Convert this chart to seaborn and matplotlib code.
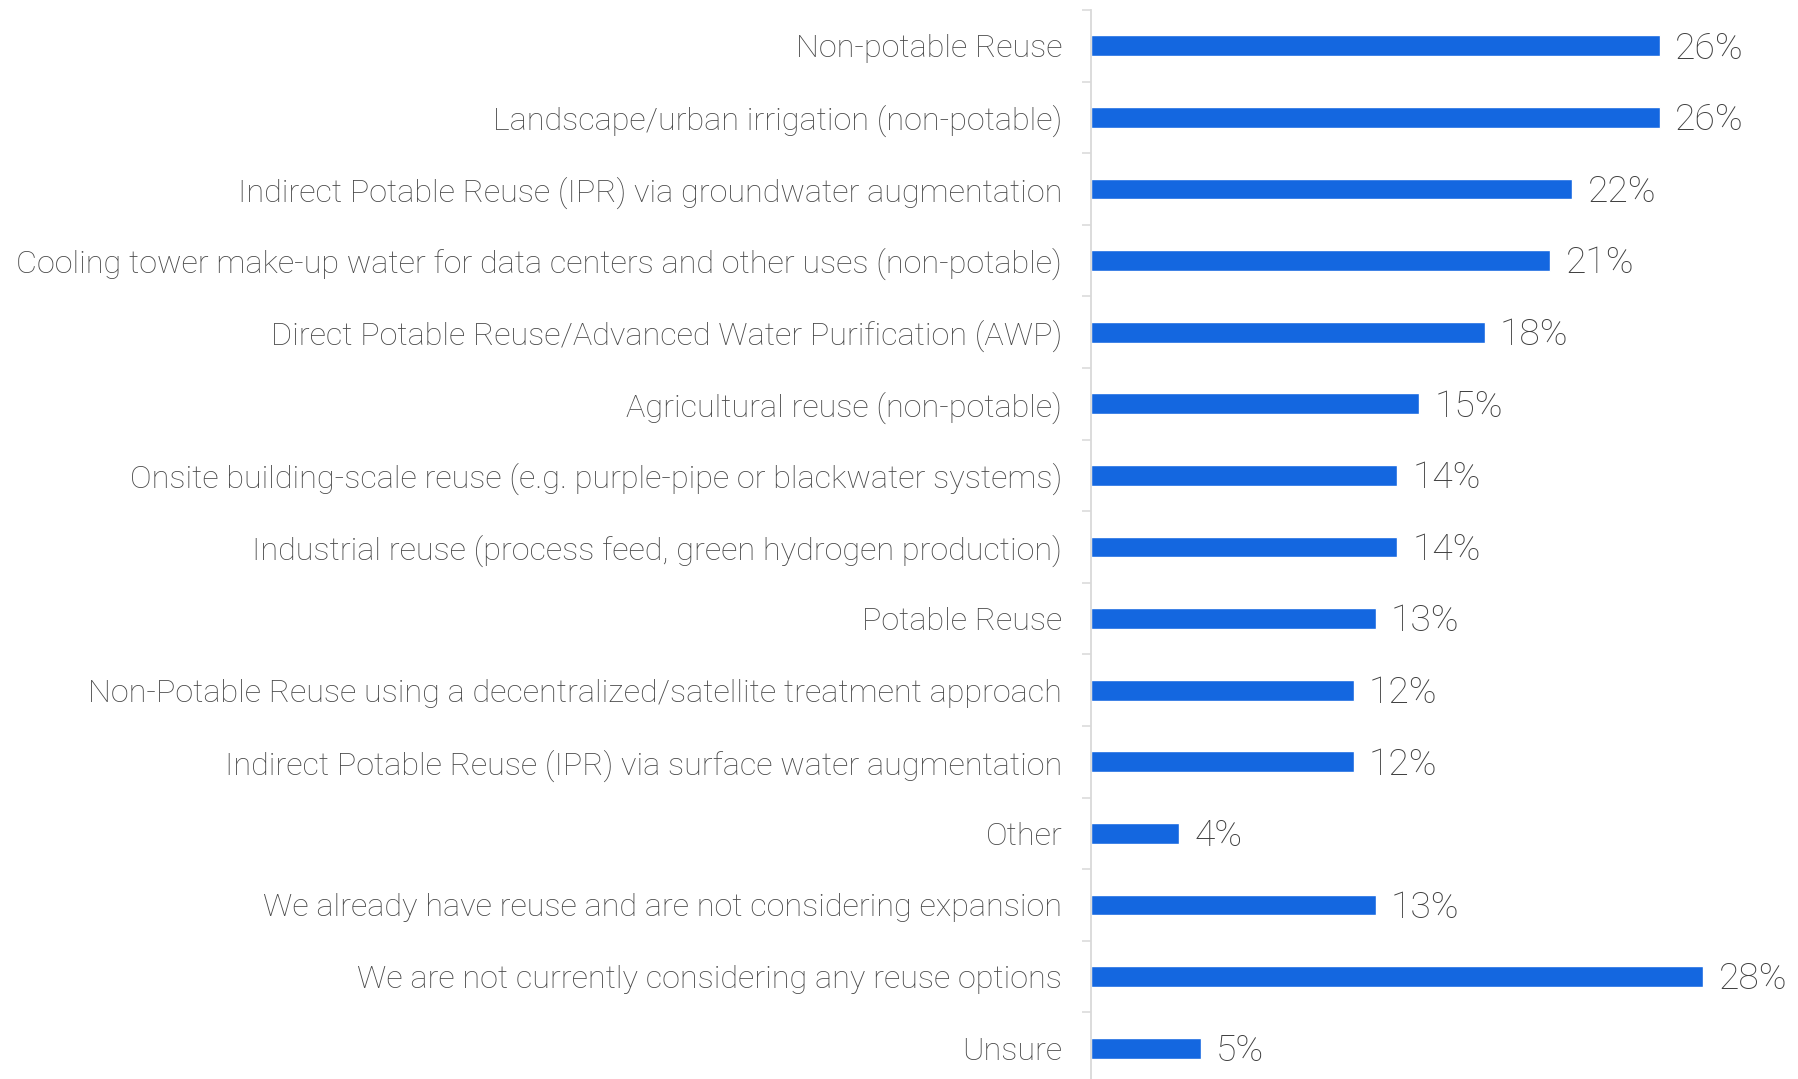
import pandas as pd
import matplotlib.pyplot as plt
import numpy as np
import seaborn as sns

# Données
categories = [
    "Non-potable Reuse",
    "Landscape/urban irrigation (non-potable)",
    "Indirect Potable Reuse (IPR) via groundwater augmentation",
    "Cooling tower make-up water for data centers and other uses (non-potable)",
    "Direct Potable Reuse/Advanced Water Purification (AWP)",
    "Agricultural reuse (non-potable)",
    "Onsite building-scale reuse (e.g. purple-pipe or blackwater systems)",
    "Industrial reuse (process feed, green hydrogen production)",
    "Potable Reuse",
    "Non-Potable Reuse using a decentralized/satellite treatment approach",
    "Indirect Potable Reuse (IPR) via surface water augmentation",
    "Other",
    "We already have reuse and are not considering expansion",
    "We are not currently considering any reuse options",
    "Unsure",
]
values = [26, 26, 22, 21, 18, 15, 14, 14, 13, 12, 12, 4, 13, 28, 5]

df = pd.DataFrame({"Categorie": categories, "Pourcentage": values})

sns.set_theme(style="white")
plt.rcParams['font.family'] = ['Roboto', 'DejaVu Sans']

fig = plt.figure(figsize=(17.98, 10.79), dpi=100)
ax = fig.add_axes([0.607, -0.0046, 0.389, 0.9953])

sns.barplot(data=df, y="Categorie", x="Pourcentage", orient="h",
            color="#1467E0", saturation=1, width=0.29, ax=ax)

ax.set_xlim(0, 32)
ax.set_ylim(len(categories) - 0.5, -0.5)

# Etiquettes de valeurs
for i, v in enumerate(values):
    ax.annotate(f"{v}%", xy=(v, i), xytext=(11, -2), textcoords="offset points",
                va="center", ha="left", fontsize=26.8, color="#404040",
                fontweight="light", annotation_clip=False)

ax.set_xlabel("")
ax.set_ylabel("")
ax.set_xticks([])
for s in ["top", "right", "bottom"]:
    ax.spines[s].set_visible(False)
ax.spines["left"].set_color("#d9d9d9")
ax.spines["left"].set_linewidth(1.3)

# Ticks entre les catégories
ax.set_yticks(np.arange(-0.5, len(categories), 1), minor=True)
ax.tick_params(axis="y", which="minor", length=6.5, width=1.1, color="#d9d9d9", left=True)
ax.tick_params(axis="y", which="major", length=0, pad=21)
for lbl in ax.get_yticklabels():
    lbl.set_fontsize(23.3)
    lbl.set_color("#484848")
    lbl.set_fontweight("light")

fig.savefig("out.png", dpi=100)
